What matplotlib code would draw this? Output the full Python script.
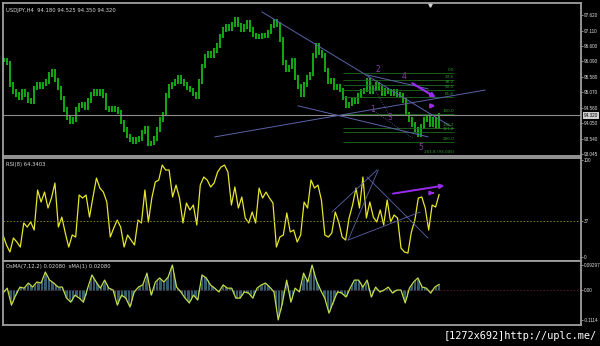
import numpy as np
import matplotlib
matplotlib.use('Agg')
import matplotlib.pyplot as plt

# USDJPY H4 closes
closes = [96.14, 96.04, 95.32, 95.09, 94.99, 94.89, 95.09, 94.99, 94.82, 94.76,
          95.22, 95.32, 95.28, 95.35, 95.42, 95.65, 95.75, 95.48, 95.22, 94.89,
          94.50, 94.23, 94.10, 94.17, 94.50, 94.63, 94.69, 94.56, 94.82, 95.02,
          95.09, 95.05, 95.09, 94.96, 94.56, 94.50, 94.56, 94.50, 94.43, 94.10,
          93.84, 93.64, 93.51, 93.44, 93.51, 93.57, 93.77, 93.90, 93.38, 93.41,
          93.57, 93.84, 94.17, 94.36, 94.96, 95.28, 95.35, 95.42, 95.55, 95.42,
          95.35, 95.22, 95.15, 95.02, 94.92, 95.42, 95.94, 96.27, 96.34, 96.30,
          96.44, 96.63, 96.93, 97.13, 97.26, 97.19, 97.32, 97.46, 97.29, 97.13,
          97.23, 97.36, 97.13, 96.96, 96.90, 96.90, 96.96, 96.93, 97.06, 97.26,
          97.42, 97.32, 96.80, 96.07, 95.81, 95.91, 96.14, 95.55, 95.28, 94.99,
          95.32, 95.55, 95.68, 96.30, 96.63, 96.40, 96.30, 95.81, 95.42, 95.48,
          95.22, 95.28, 95.15, 94.89, 94.63, 94.69, 94.82, 94.76, 94.96, 95.09,
          95.15, 95.48, 95.09, 95.22, 95.35, 95.22, 95.02, 95.15, 95.09, 95.02,
          95.09, 94.99, 94.96, 94.82, 94.36, 94.17, 94.03, 93.84, 93.70, 93.96,
          94.17, 94.23, 94.03, 94.17, 93.96, 94.32]

rsi = [22.7, 12.4, 5.2, 19.6, 15.5, 10.3, 35.1, 30.9, 36.1, 27.8,
       69.1, 56.7, 67.0, 50.5, 60.8, 76.3, 30.9, 41.2, 24.7, 10.3,
       22.7, 20.6, 63.9, 60.8, 63.9, 41.2, 61.9, 81.4, 71.1, 67.0,
       56.7, 20.6, 29.9, 38.1, 30.9, 10.3, 22.7, 17.5, 12.4, 38.1,
       35.1, 69.1, 36.1, 60.8, 77.3, 79.4, 94.8, 89.7, 89.7, 61.9,
       74.2, 60.8, 35.1, 55.7, 48.5, 53.6, 33.0, 74.2, 82.5, 79.4,
       72.2, 76.3, 87.6, 92.8, 94.8, 87.6, 53.6, 72.2, 50.5, 61.9,
       40.2, 35.1, 46.4, 35.1, 71.1, 60.8, 67.0, 60.8, 55.7, 10.3,
       20.6, 22.7, 45.4, 25.8, 27.8, 15.5, 22.7, 56.7, 50.5, 79.4,
       71.1, 74.2, 58.8, 22.7, 20.6, 24.7, 46.4, 36.1, 20.6, 17.5,
       40.2, 53.6, 71.1, 50.5, 82.5, 40.2, 56.7, 41.2, 36.1, 48.5,
       33.0, 58.8, 36.1, 43.3, 40.2, 9.3, 5.2, 4.1, 25.8, 38.1,
       60.8, 61.9, 50.5, 27.8, 53.6, 51.5, 64.34]

osma = [-0.011, 0.007, -0.056, -0.019, 0.011, 0.007, 0.026, 0.011, 0.030, 0.026,
        0.067, 0.037, 0.026, 0.011, 0.011, -0.030, -0.045, -0.019, -0.030, -0.045,
        0.007, 0.056, 0.030, 0.007, 0.037, 0.007, 0.0, -0.056, -0.019, -0.030,
        -0.063, -0.007, 0.011, 0.019, 0.063, -0.019, 0.030, 0.045, 0.030, 0.048,
        0.093, 0.011, -0.007, -0.030, -0.048, -0.019, -0.037, 0.056, 0.045, 0.019,
        0.007, -0.007, 0.019, 0.007, 0.007, -0.030, -0.030, -0.007, -0.011, -0.030,
        0.007, 0.019, 0.026, 0.011, -0.007, -0.111, -0.048, 0.037, -0.045, 0.007,
        -0.007, 0.063, 0.030, 0.093, 0.037, 0.0, -0.030, -0.086, -0.045, -0.007,
        -0.011, -0.026, 0.007, 0.037, 0.037, 0.011, 0.037, -0.026, 0.011, -0.007,
        0.0, 0.011, -0.011, 0.0, 0.0, -0.048, 0.007, 0.030, 0.045, 0.011,
        0.007, -0.011, 0.011, 0.0208]

price_ticks = [97.620, 97.110, 96.600, 96.090, 95.580, 95.070, 94.560, 94.050, 93.540, 93.045]
last_price = 94.320

# fibo levels and labels
fib_prices = [95.71, 95.48, 95.32, 95.15, 94.92, 94.36, 93.90, 93.77, 93.44]
fib_labels = ['0.0', '23.6', '38.2', '50.0', '61.8', '100.0', '138.2', '161.8', '200.0']

# trendlines (bar index, price)
main_lines = [((86, 97.72), (148.7, 93.97)),
              ((121, 95.65), (141.3, 95.19)),
              ((98, 94.63), (141.3, 93.61)),
              ((70.3, 93.61), (160.3, 95.15))]
wave_lines = [((121.3, 95.58), (128.7, 94.26)),
              ((122.7, 94.50), (136.3, 93.57))]
wave_labels = ['1', '2', '3', '4', '5']
wave_pos = [(122.7, 94.50), (124.7, 95.82), (128.7, 94.26), (133.3, 95.59), (139, 93.25)]

rsi_lines = [((109.3, 46.4), (124.3, 89.7)),
             ((114.7, 17.5), (124.7, 89.7)),
             ((121, 82.5), (141.3, 19.6)),
             ((114.7, 17.5), (138.7, 46.4))]

BG = 'black'
GRID = '#a0a0a0'
LINE = '#5b64a8'
PURPLE = '#9a2cf0'
TICKFONT = dict(family='Liberation Sans', size=3.3)

fig = plt.figure(figsize=(6, 3.46), dpi=100, facecolor=BG)
ax1 = fig.add_axes([3 / 600, 1 - 156 / 346, 578 / 600, 153 / 346])
ax2 = fig.add_axes([3 / 600, 1 - 261 / 346, 578 / 600, 103 / 346])
ax3 = fig.add_axes([3 / 600, 1 - 325 / 346, 578 / 600, 64 / 346])

xlim = (-0.33, 192.3)
for ax in (ax1, ax2, ax3):
    ax.set_facecolor(BG)
    ax.set_xlim(*xlim)
    ax.set_xticks([])
    for s in ax.spines.values():
        s.set_color(GRID)
        s.set_linewidth(1.3)
    ax.yaxis.tick_right()
    ax.tick_params(axis='y', colors=GRID, labelcolor='#e0e0e0',
                   length=1.5, width=0.6, pad=0.5)

# ---- price panel
n = len(closes)
x = np.arange(n)
c = np.array(closes)
o = np.r_[c[0], c[:-1]]
hi = np.maximum(o, c) + 0.08
lo = np.minimum(o, c) - 0.08
ax1.vlines(x, lo, hi, color='#18d818', lw=1.1)
ax1.set_ylim(92.98, 98.015)
ax1.set_yticks(price_ticks)
ax1.set_yticklabels(['%.3f' % p for p in price_ticks], fontdict=TICKFONT)
ax1.axhline(last_price, color='#8c8c8c', lw=0.8)
ax1.text(1.0045, last_price, '%.3f' % last_price, transform=ax1.get_yaxis_transform(),
         color='black', va='center', ha='left', fontdict=TICKFONT,
         bbox=dict(boxstyle='square,pad=0.2', fc='#d0d0d0', ec='none'))

for p, lab in zip(fib_prices, fib_labels):
    ax1.hlines(p, 113, 150, color='#1f6a1f', lw=0.6)
    ax1.text(150, p + 0.03, lab, fontsize=3, color='#2f9a2f', ha='right', va='bottom')
ax1.text(150, 93.05, '261.8 (93.045)', fontsize=3, color='#2f9a2f', ha='right', va='bottom')

for (a, b) in main_lines:
    ax1.plot([a[0], b[0]], [a[1], b[1]], color=LINE, lw=0.7)
for (a, b) in wave_lines:
    ax1.plot([a[0], b[0]], [a[1], b[1]], color='#6a5a9a', lw=0.6, ls=':')
for lab, (px, py) in zip(wave_labels, wave_pos):
    ax1.text(px, py, lab, fontsize=5.5, color='#8c3aa8', ha='center', va='center')

ax1.annotate('', xy=(144.7, 94.86), xytext=(135.3, 95.42),
             arrowprops=dict(arrowstyle='-|>', color=PURPLE, lw=1.6, mutation_scale=6))
ax1.annotate('', xy=(144.7, 94.63), xytext=(141.3, 94.63),
             arrowprops=dict(arrowstyle='-|>', color=PURPLE, lw=1.6, mutation_scale=5))
ax1.plot([142], [97.95], marker='v', ms=2.5, color='#d0d0d0')
ax1.text(0.006, 0.965, 'USDJPY,H4  94.180 94.525 94.350 94.320', transform=ax1.transAxes,
         fontsize=3.8, color='#d8d8d8', va='top', ha='left')

# ---- RSI panel
xr = np.linspace(-0.33, n - 1, len(rsi))
ax2.plot(xr, rsi, color='#e6e62a', lw=0.9)
ax2.axhline(37, color='#8a8a1e', lw=0.6, ls=(0, (2, 2)))
ax2.set_ylim(-4.1, 102.1)
ax2.set_yticks([100, 37, 0])
ax2.set_yticklabels(['100', '37', '0'], fontdict=TICKFONT)
for (a, b) in rsi_lines:
    ax2.plot([a[0], b[0]], [a[1], b[1]], color=LINE, lw=0.6)
ax2.annotate('', xy=(147.7, 74.2), xytext=(128.7, 64.9),
             arrowprops=dict(arrowstyle='-|>', color=PURPLE, lw=1.4, mutation_scale=6))
ax2.annotate('', xy=(144.3, 66), xytext=(142, 66),
             arrowprops=dict(arrowstyle='-|>', color=PURPLE, lw=1.4, mutation_scale=5))
ax2.text(0.006, 0.96, 'RSI(8) 64.3403', transform=ax2.transAxes,
         fontsize=3.8, color='#d8d8d8', va='top', ha='left')

# ---- OsMA panel
xo = np.linspace(-0.33, n - 1, len(osma))
xh = np.linspace(-0.33, n - 1, 3 * len(osma))
ax3.vlines(xh, 0, np.interp(xh, xo, osma), color='#3f6f80', lw=0.6)
ax3.plot(xo, osma, color='#c4dc46', lw=0.9)
ax3.axhline(0, color='#5a1a3a', lw=0.6, ls=(0, (2, 2)), zorder=0)
ax3.set_ylim(-0.130, 0.108)
ax3.set_yticks([0.09297, 0.0, -0.1114])
ax3.set_yticklabels(['0.09297', '0.00', '-0.1114'], fontdict=TICKFONT)
ax3.text(0.006, 0.95, 'OsMA(7,12,2) 0.02080  sMA(1) 0.02080', transform=ax3.transAxes,
         fontsize=3.8, color='#d8d8d8', va='top', ha='left')

fig.text(597 / 600, 1 - 336 / 346, '[1272x692]http://uplc.me/', fontsize=7.4,
         color='white', ha='right', va='center', family='DejaVu Sans Mono')

fig.savefig('out.png', dpi=100, facecolor=BG)
